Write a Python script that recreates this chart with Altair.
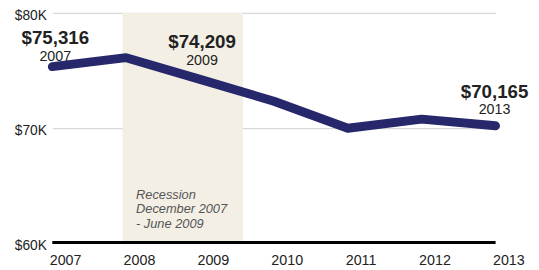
import altair as alt
import pandas as pd

years = [2007, 2008, 2009, 2010, 2011, 2012, 2013]
income = [75316, 76100, 74209, 72300, 69950, 70750, 70165]

recession_start = [2007.95]
recession_end = [2009.58]
recession_label = ["Recession", "December 2007", "- June 2009"]

y_ticks = [60000, 70000, 80000]

FONT = "Liberation Sans"
LINE_COLOR = "#27286b"
TEXT_COLOR = "#222222"

df = pd.DataFrame({"year": years, "income": income})
band_df = pd.DataFrame({"start": recession_start, "end": recession_end,
                        "lo": [y_ticks[0]], "hi": [y_ticks[-1]]})

x_scale = alt.Scale(domain=[years[0], years[-1]], nice=False, zero=False)
y_scale = alt.Scale(domain=[y_ticks[0], y_ticks[-1]], nice=False, zero=False)

band = alt.Chart(band_df).mark_rect(color="#f3efe5").encode(
    x=alt.X("start:Q", scale=x_scale),
    x2="end:Q",
    y=alt.Y("lo:Q", scale=y_scale),
    y2="hi:Q",
)

base = alt.Chart(df).encode(
    x=alt.X("year:Q", scale=x_scale,
            axis=alt.Axis(values=years, format="d", title=None, domain=False,
                          ticks=False, grid=False, labelFontSize=14.5,
                          labelColor=TEXT_COLOR, labelFont=FONT,
                          labelPadding=11, labelOffset=13, labelFlush=False)),
    y=alt.Y("income:Q", scale=y_scale,
            axis=alt.Axis(values=y_ticks, title=None, domain=False, ticks=False,
                          labelExpr='"$" + datum.value / 1000 + "K"',
                          labelFontSize=14, labelColor=TEXT_COLOR, labelFont=FONT,
                          labelPadding=6, labelOffset=3,
                          grid=True, gridColor="#d9d9d9", gridWidth=1.2)),
)

baseline = alt.Chart(pd.DataFrame({"v": [y_ticks[0]]})).mark_rule(
    color="black", strokeWidth=3).encode(y=alt.Y("v:Q", scale=y_scale))

line = base.mark_line(color=LINE_COLOR, strokeWidth=9, strokeCap="round",
                      strokeJoin="round")

rec_text = alt.Chart(pd.DataFrame({"x": [years[1]], "y": [y_ticks[0]],
                                   "t": ["\n".join(recession_label)]})).mark_text(
    align="left", baseline="alphabetic", dx=10, dy=-44, lineBreak="\n",
    lineHeight=14.5, font=FONT, fontSize=13, fontStyle="italic",
    color="#555555").encode(
    x=alt.X("x:Q", scale=x_scale), y=alt.Y("y:Q", scale=y_scale), text="t:N")

layers = [band, baseline, line, rec_text]

ann = [(years[0], income[0], 3, -23, -6),
       (years[2], income[2], 2, -32, -15),
       (years[6], income[6], -1, -28, -12)]
for yr, val, dx, dy_val, dy_yr in ann:
    d = pd.DataFrame({"year": [yr], "income": [val],
                      "vt": ["${:,}".format(val)], "yt": [str(yr)]})
    c = alt.Chart(d).encode(x=alt.X("year:Q", scale=x_scale),
                            y=alt.Y("income:Q", scale=y_scale))
    layers.append(c.mark_text(align="center", baseline="alphabetic", dx=dx,
                              dy=dy_val, font=FONT, fontSize=19,
                              fontWeight="bold", color=TEXT_COLOR).encode(text="vt:N"))
    layers.append(c.mark_text(align="center", baseline="alphabetic", dx=dx,
                              dy=dy_yr, font=FONT, fontSize=14.5,
                              color=TEXT_COLOR).encode(text="yt:N"))

chart = alt.layer(*layers).properties(
    width=450, height=233, background="white",
    padding={"left": 45, "top": 3, "right": 36, "bottom": 26},
    autosize=alt.AutoSizeParams(type="none"),
).configure_view(strokeWidth=0)

chart.save("out.html", embed_options={"renderer": "svg", "actions": False})
